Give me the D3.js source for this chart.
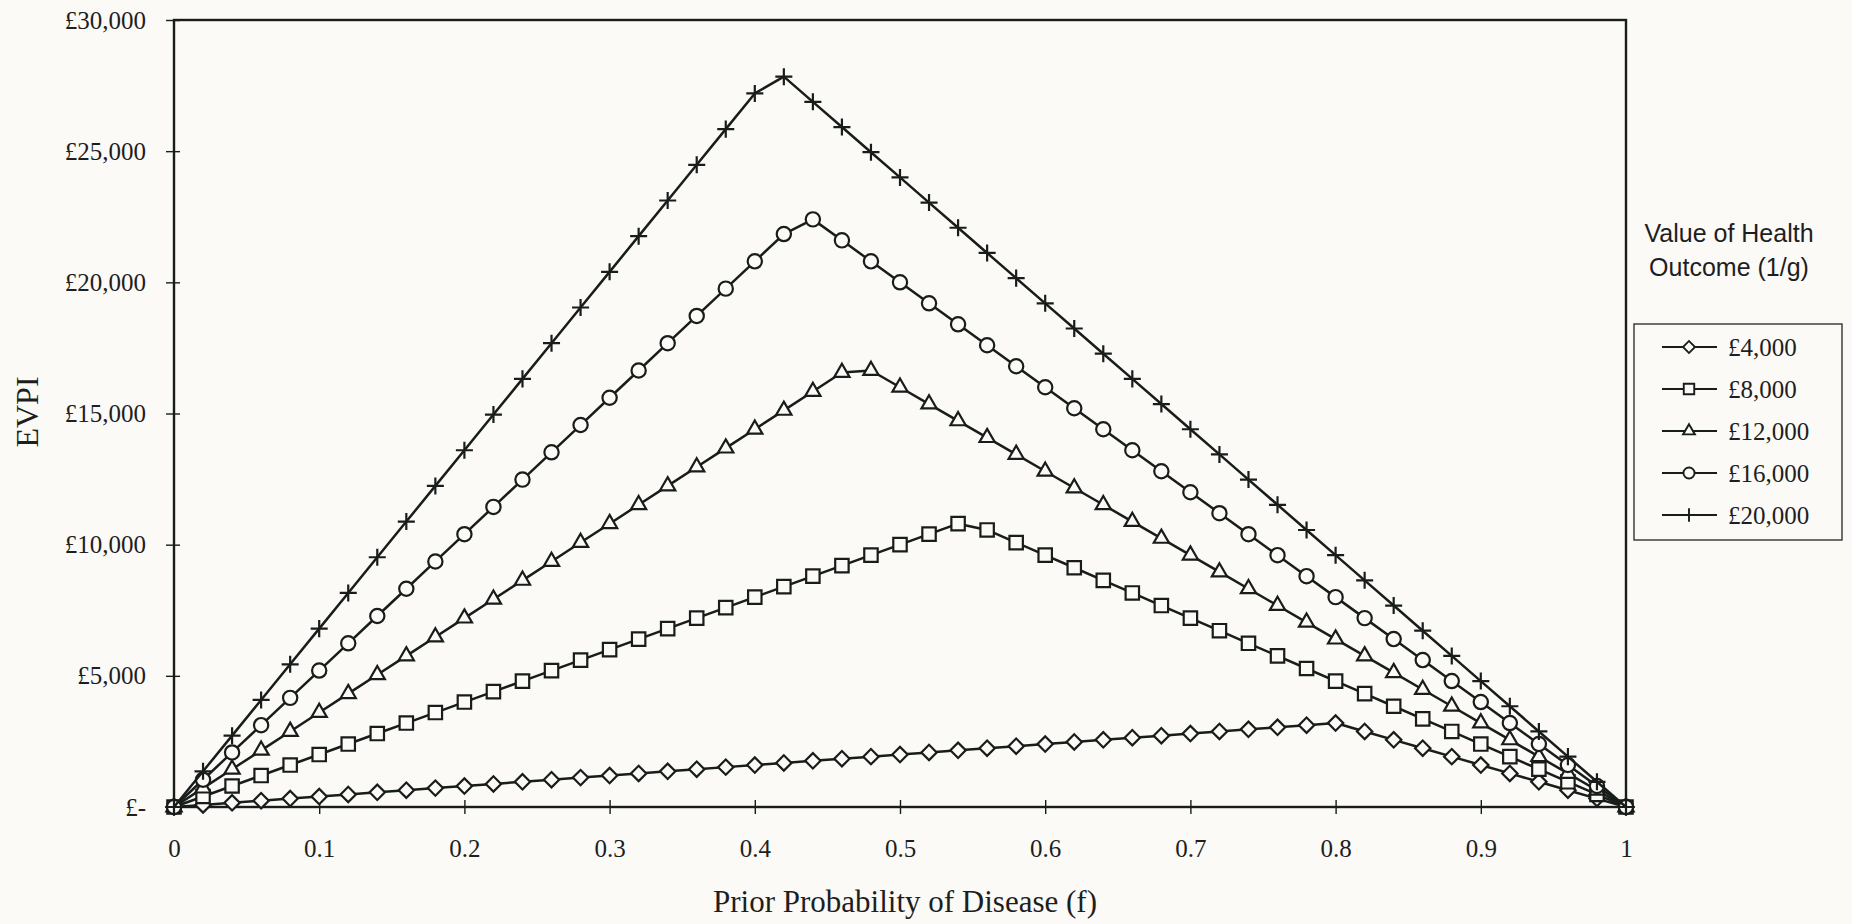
<!DOCTYPE html>
<html>
<head>
<meta charset="utf-8">
<script src="https://cdn.jsdelivr.net/npm/d3@7"></script>
<style>
  html, body { margin: 0; padding: 0; background: #fbfaf6; }
  svg { display: block; }
</style>
</head>
<body>
<svg id="chart" width="1852" height="924"></svg>
<script>
// Prior probability of disease (f), sampled every 0.02
const priorProbability = [0,0.02,0.04,0.06,0.08,0.1,0.12,0.14,0.16,0.18,0.2,0.22,0.24,0.26,0.28,0.3,0.32,0.34,0.36,0.38,0.4,0.42,0.44,0.46,0.48,0.5,0.52,0.54,0.56,0.58,0.6,0.62,0.64,0.66,0.68,0.7,0.72,0.74,0.76,0.78,0.8,0.82,0.84,0.86,0.88,0.9,0.92,0.94,0.96,0.98,1];

// EVPI (£) for each value of the health outcome (1/g)
const evpi4000 = [0,80,160,240,320,400,480,560,640,720,800,880,960,1040,1120,1200,1280,1360,1440,1520,1600,1680,1760,1840,1920,2000,2080,2160,2240,2320,2400,2480,2560,2640,2720,2800,2880,2960,3040,3120,3200,2880,2560,2240,1920,1600,1280,960,640,320,0];
const evpi8000 = [0,400,800,1200,1600,2000,2400,2800,3200,3600,4000,4400,4800,5200,5600,6000,6400,6800,7200,7600,8000,8400,8800,9200,9600,10000,10400,10800,10560,10080,9600,9120,8640,8160,7680,7200,6720,6240,5760,5280,4800,4320,3840,3360,2880,2400,1920,1440,960,480,0];
const evpi12000 = [0,720,1440,2160,2880,3600,4320,5040,5760,6480,7200,7920,8640,9360,10080,10800,11520,12240,12960,13680,14400,15120,15840,16560,16640,16000,15360,14720,14080,13440,12800,12160,11520,10880,10240,9600,8960,8320,7680,7040,6400,5760,5120,4480,3840,3200,2560,1920,1280,640,0];
const evpi16000 = [0,1040,2080,3120,4160,5200,6240,7280,8320,9360,10400,11440,12480,13520,14560,15600,16640,17680,18720,19760,20800,21840,22400,21600,20800,20000,19200,18400,17600,16800,16000,15200,14400,13600,12800,12000,11200,10400,9600,8800,8000,7200,6400,5600,4800,4000,3200,2400,1600,800,0];
const evpi20000 = [0,1360,2720,4080,5440,6800,8160,9520,10880,12240,13600,14960,16320,17680,19040,20400,21760,23120,24480,25840,27200,27840,26880,25920,24960,24000,23040,22080,21120,20160,19200,18240,17280,16320,15360,14400,13440,12480,11520,10560,9600,8640,7680,6720,5760,4800,3840,2880,1920,960,0];

const seriesNames = ["£4,000", "£8,000", "£12,000", "£16,000", "£20,000"];
const seriesValues = [evpi4000, evpi8000, evpi12000, evpi16000, evpi20000];
const seriesMarkers = ["diamond", "square", "triangle", "circle", "plus"];

const yTickValues = [0, 5000, 10000, 15000, 20000, 25000, 30000];
const yTickLabels = ["£-", "£5,000", "£10,000", "£15,000", "£20,000", "£25,000", "£30,000"];
const xTickValues = [0, 0.1, 0.2, 0.3, 0.4, 0.5, 0.6, 0.7, 0.8, 0.9, 1];
const xTickLabels = ["0", "0.1", "0.2", "0.3", "0.4", "0.5", "0.6", "0.7", "0.8", "0.9", "1"];

const legendTitle = ["Value of Health", "Outcome (1/g)"];
const xTitle = "Prior Probability of Disease (f)";
const yTitle = "EVPI";

// ---- drawing ----
const ink = "#181d1b";
const paper = "#fbfaf6";
const serif = "'Liberation Serif', 'Times New Roman', serif";
const sans = "'Liberation Sans', Arial, sans-serif";

const svg = d3.select("#chart");
const plot = { left: 174, right: 1626, top: 20, bottom: 807 };

const x = d3.scaleLinear().domain([0, 1]).range([plot.left, plot.right]);
const y = d3.scaleLinear().domain([0, 30000]).range([plot.bottom, plot.top]);

// Stroke-only plus sign for the £20,000 series
const plusSymbol = {
  draw(context, size) {
    const r = Math.sqrt(size) / 2;
    context.moveTo(-r, 0); context.lineTo(r, 0);
    context.moveTo(0, -r); context.lineTo(0, r);
  }
};

function markerPath(kind, scale) {
  switch (kind) {
    case "diamond": return d3.symbol(d3.symbolSquare, 118 * scale * scale)();
    case "square": return d3.symbol(d3.symbolSquare, 180 * scale * scale)();
    case "triangle": return d3.symbol(d3.symbolTriangle, 100 * scale * scale)();
    case "circle": return d3.symbol(d3.symbolCircle, 160 * scale * scale)();
    case "plus": return d3.symbol(plusSymbol, 290 * scale * scale)();
  }
}
function markerTransform(kind, px, py) {
  return kind === "diamond" ? `translate(${px},${py}) rotate(45)` : `translate(${px},${py})`;
}

// Y axis
const yAxis = d3.axisLeft(y)
  .tickValues(yTickValues)
  .tickFormat((d, i) => yTickLabels[i])
  .tickSizeInner(8)
  .tickSizeOuter(0)
  .tickPadding(20);
const gy = svg.append("g").attr("transform", `translate(${plot.left},0)`).call(yAxis);
gy.select(".domain").remove();
gy.selectAll(".tick line").attr("x1", 6).attr("x2", -8).attr("stroke", ink).attr("stroke-width", 1.4);
gy.selectAll(".tick text")
  .attr("fill", "#1e1e1e")
  .style("font-family", serif)
  .style("font-size", "25px");

// X axis
const xAxis = d3.axisBottom(x)
  .tickValues(xTickValues)
  .tickFormat((d, i) => xTickLabels[i])
  .tickSizeInner(7)
  .tickSizeOuter(0)
  .tickPadding(25);
const gx = svg.append("g").attr("transform", `translate(0,${plot.bottom})`).call(xAxis);
gx.select(".domain").remove();
gx.selectAll(".tick line").attr("y1", -7).attr("y2", 7).attr("stroke", ink).attr("stroke-width", 1.4);
gx.selectAll(".tick text")
  .attr("fill", "#1e1e1e")
  .style("font-family", serif)
  .style("font-size", "25px");

// Plot frame
svg.append("rect")
  .attr("x", plot.left).attr("y", plot.top)
  .attr("width", plot.right - plot.left).attr("height", plot.bottom - plot.top)
  .attr("fill", "none").attr("stroke", ink).attr("stroke-width", 2.4);

// Series lines and markers
const line = d3.line()
  .x((d, i) => x(priorProbability[i]))
  .y(d => y(d));

seriesValues.forEach((vals, s) => {
  const g = svg.append("g").attr("class", "series");
  g.append("path")
    .datum(vals)
    .attr("d", line)
    .attr("fill", "none")
    .attr("stroke", ink)
    .attr("stroke-width", 2.5)
    .attr("stroke-linejoin", "round");
  const kind = seriesMarkers[s];
  g.selectAll("path.marker")
    .data(vals)
    .join("path")
    .attr("class", "marker")
    .attr("d", markerPath(kind, 1))
    .attr("transform", (d, i) => markerTransform(kind, x(priorProbability[i]), y(d)))
    .attr("fill", kind === "plus" ? "none" : paper)
    .attr("stroke", ink)
    .attr("stroke-width", 2.2);
});

// Axis titles
svg.append("text")
  .attr("x", 905).attr("y", 912)
  .attr("text-anchor", "middle")
  .attr("fill", "#1e1e1e")
  .style("font-family", serif)
  .style("font-size", "31px")
  .text(xTitle);

svg.append("text")
  .attr("transform", "translate(38,412) rotate(-90)")
  .attr("text-anchor", "middle")
  .attr("fill", "#1e1e1e")
  .style("font-family", serif)
  .style("font-size", "32px")
  .text(yTitle);

// Legend title
svg.append("text")
  .attr("text-anchor", "middle")
  .attr("fill", "#1e1e1e")
  .style("font-family", sans)
  .style("font-size", "25px")
  .selectAll("tspan")
  .data(legendTitle)
  .join("tspan")
  .attr("x", 1729)
  .attr("y", (d, i) => 242 + i * 34)
  .text(d => d);

// Legend box
const legend = svg.append("g");
legend.append("rect")
  .attr("x", 1634).attr("y", 324)
  .attr("width", 208).attr("height", 216)
  .attr("fill", paper)
  .attr("stroke", "#333").attr("stroke-width", 1.4);

const legendY = d3.scalePoint().domain(seriesNames).range([347, 515]);
seriesNames.forEach((name, s) => {
  const cy = legendY(name);
  const kind = seriesMarkers[s];
  legend.append("line")
    .attr("x1", 1662).attr("x2", 1717)
    .attr("y1", cy).attr("y2", cy)
    .attr("stroke", ink).attr("stroke-width", 2.2);
  legend.append("path")
    .attr("d", markerPath(kind, 0.78))
    .attr("transform", markerTransform(kind, 1689, cy))
    .attr("fill", kind === "plus" ? "none" : paper)
    .attr("stroke", ink)
    .attr("stroke-width", 1.9);
  legend.append("text")
    .attr("x", 1728).attr("y", cy)
    .attr("dy", "0.34em")
    .attr("fill", "#1e1e1e")
    .style("font-family", serif)
    .style("font-size", "25px")
    .text(name);
});
</script>
</body>
</html>
